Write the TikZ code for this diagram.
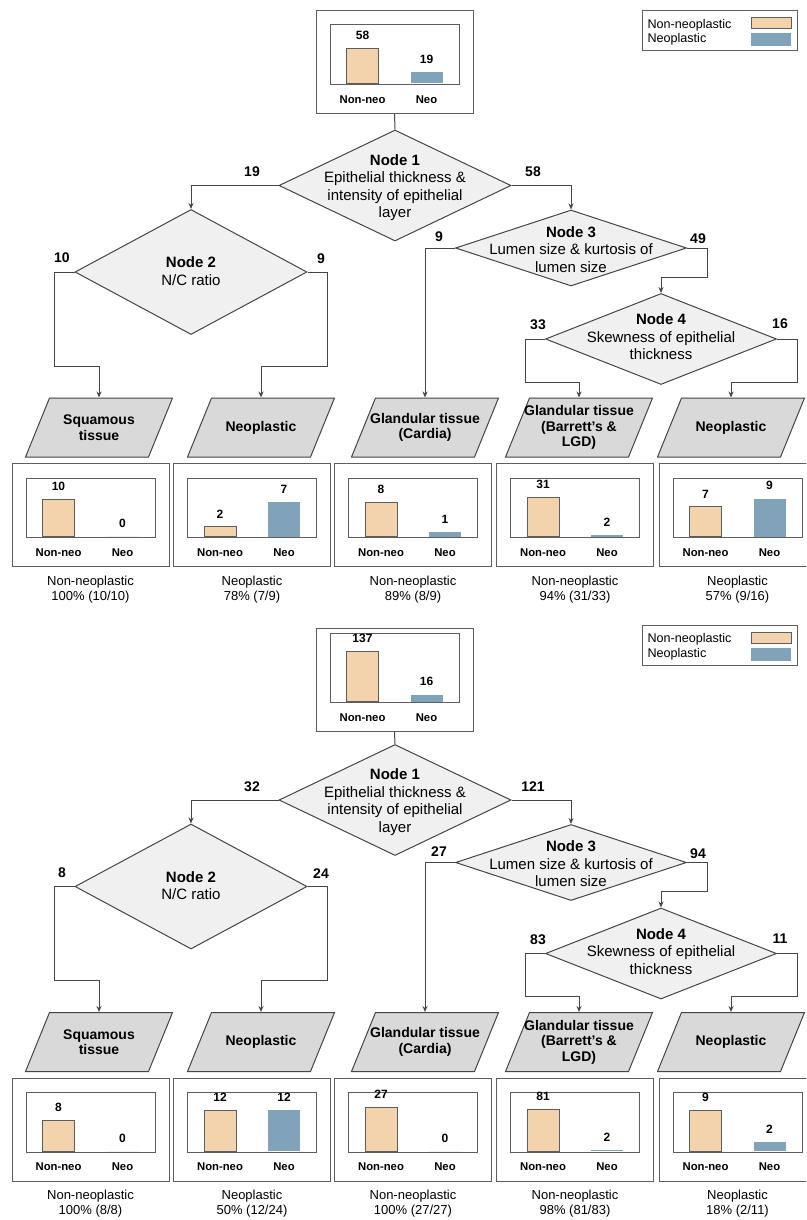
\documentclass[tikz,border=0pt]{standalone}
\usepackage{fontspec}
\setmainfont{Liberation Sans}
\usetikzlibrary{shapes.geometric,arrows.meta,positioning}

\definecolor{linegray}{HTML}{454545}
\definecolor{framegray}{HTML}{5E5E5E}
\definecolor{diafill}{HTML}{F0F0F0}
\definecolor{parfill}{HTML}{D9D9D9}
\definecolor{nonneo}{HTML}{F2D3AC}
\definecolor{neo}{HTML}{80A3BA}

% small bar chart: name, centre x, top y, value 1, value 2, bar 1 height, bar 2 height, extra inner height
\newcommand{\minichart}[8]{
  \node[chartframe] (#1) at (#2,#3) {};
  \node[chartinner,minimum height=59.5+#8] (#1in) at (#2,#3+14.5-#8) {};
  \node[nonneobar,minimum height=#6] (#1b1) at (#2-32,#3+74) {};
  \node[neobar,minimum height=#7] (#1b2) at (#2+32,#3+74) {};
  \node[barvalue,above=7.5pt of #1b1] (#1v1) {#4};
  \node[barvalue,above=7.5pt of #1b2] (#1v2) {#5};
  \node[barname] (#1x1) at (#2-32,#3+89.5) {Non-neo};
  \node[barname] (#1x2) at (#2+32,#3+89.5) {Neo};
}

\begin{document}
\begin{tikzpicture}[x=1pt,y=-1pt,line width=1pt,>={Stealth[length=6pt,width=5pt]},
  decision/.style={diamond,draw=linegray,fill=diafill,inner sep=0pt},
  decisiontext/.style={align=center,inner sep=0pt,font=\fontsize{15}{17.5}\selectfont},
  outcome/.style={minimum width=123,minimum height=59,inner sep=0pt,align=center,
    font=\bfseries\fontsize{14}{15.5}\selectfont},
  slantbox/.style={draw=linegray,fill=parfill},
  chartframe/.style={draw=framegray,fill=white,anchor=north,minimum width=157,minimum height=103,inner sep=0pt},
  chartinner/.style={draw=framegray,fill=white,anchor=north,minimum width=129,inner sep=0pt},
  nonneobar/.style={draw=framegray,fill=nonneo,anchor=south,minimum width=32,inner sep=0pt},
  neobar/.style={fill=neo,anchor=south,minimum width=32,inner sep=0pt},
  barvalue/.style={inner sep=0pt,font=\bfseries\fontsize{12}{14}\selectfont},
  barname/.style={inner sep=0pt,font=\bfseries\fontsize{11.3}{13}\selectfont},
  branch/.style={inner sep=0pt,font=\bfseries\fontsize{14}{16}\selectfont},
  summary/.style={align=center,inner sep=0pt,font=\fontsize{13}{15}\selectfont},
  legendframe/.style={draw=framegray,fill=white,minimum width=155,minimum height=40,inner sep=0pt},
  legendtext/.style={anchor=west,inner sep=0pt,font=\fontsize{12.6}{14}\selectfont}]

\clip (0,0) rectangle (806,1220);

% ---- upper tree
\node[legendframe] (aLeg) at (719.5,31) {};
\node[legendtext] (aLegT1) at (647,25) {Non-neoplastic};
\node[legendtext] (aLegT2) at (647,39.5) {Neoplastic};
\node[nonneobar,anchor=center,minimum width=40,minimum height=11] (aLegS1) at (771,23.5) {};
\node[neobar,anchor=center,minimum width=40,minimum height=13] (aLegS2) at (771,39.5) {};

\minichart{aRoot}{394.5}{10}{58}{19}{35}{11}{0}

\node[decision,minimum width=232,minimum height=111] (a1) at (395,185.5) {};
\node[decisiontext] (a1t) at (395,187.5) {\textbf{Node 1}\\Epithelial thickness \&\\intensity of epithelial\\layer};
\node[decision,minimum width=232,minimum height=125] (a2) at (191,272) {};
\node[decisiontext] (a2t) at (191,271) {\textbf{Node 2}\\N/C ratio};
\node[decision,minimum width=231,minimum height=76] (a3) at (571,248) {};
\node[decisiontext] (a3t) at (571,249.5) {\textbf{Node 3}\\Lumen size \& kurtosis of\\lumen size};
\node[decision,minimum width=231,minimum height=91] (a4) at (661,339) {};
\node[decisiontext] (a4t) at (661,337) {\textbf{Node 4}\\Skewness of epithelial\\thickness};

% slanted outcome boxes
\foreach \px in {99,261,425,579,731}
  \draw[slantbox] (\px-73.5,457) -- (\px-49.5,398) -- (\px+73.5,398) -- (\px+49.5,457) -- cycle;
\node[outcome] (aL1) at (99,427.5) {Squamous\\tissue};
\node[outcome] (aL2) at (261,427.5) {Neoplastic};
\node[outcome] (aL3) at (425,427.5) {Glandular tissue\\(Cardia)};
\node[outcome] (aL4) at (579,427.5) {Glandular tissue\\(Barrett's \&\\LGD)};
\node[outcome] (aL5) at (731,427.5) {Neoplastic};

\draw[draw=linegray] (aRoot.south) -- (a1.north);
\draw[->,draw=linegray] (a1.west) -| (a2.north);
\draw[->,draw=linegray] (a1.east) -| (a3.north);
\draw[->,draw=linegray] (a2.west) -| ++(-20,94) -| (aL1.north);
\draw[->,draw=linegray] (a2.east) -| ++(20,94) -| (aL2.north);
\draw[->,draw=linegray] (a3.west) -| (aL3.north);
\draw[->,draw=linegray] (a3.east) -| ++(20,29) -| (a4.north);
\draw[->,draw=linegray] (a4.west) -| ++(-20,43) -| (aL4.north);
\draw[->,draw=linegray] (a4.east) -| ++(20,43) -| (aL5.north);

\node[branch] (aN1) at (252,172) {19};
\node[branch] (aN2) at (533,172) {58};
\node[branch] (aN3) at (62,258) {10};
\node[branch] (aN4) at (321,259) {9};
\node[branch] (aN5) at (439,237) {9};
\node[branch] (aN6) at (698,239) {49};
\node[branch] (aN7) at (538,325) {33};
\node[branch] (aN8) at (780,324) {16};

\minichart{aC1}{90.5}{463}{10}{0}{37}{0}{0}
\minichart{aC2}{252}{463}{2}{7}{10}{35}{0}
\minichart{aC3}{413}{463}{8}{1}{34}{5}{0}
\minichart{aC4}{575}{463}{31}{2}{39}{2}{0}
\minichart{aC5}{737.5}{463}{7}{9}{30}{38}{0}

\node[summary] (aS1) at (90.5,589.5) {Non-neoplastic\\100\% (10/10)};
\node[summary] (aS2) at (252,589.5) {Neoplastic\\78\% (7/9)};
\node[summary] (aS3) at (413,589.5) {Non-neoplastic\\89\% (8/9)};
\node[summary] (aS4) at (575,589.5) {Non-neoplastic\\94\% (31/33)};
\node[summary] (aS5) at (737.5,589.5) {Neoplastic\\57\% (9/16)};

% ---- lower tree
\begin{scope}[yshift=-614.5pt]
\node[legendframe] (bLeg) at (719.5,31) {};
\node[legendtext] (bLegT1) at (647,25) {Non-neoplastic};
\node[legendtext] (bLegT2) at (647,39.5) {Neoplastic};
\node[nonneobar,anchor=center,minimum width=40,minimum height=11] (bLegS1) at (771,23.5) {};
\node[neobar,anchor=center,minimum width=40,minimum height=13] (bLegS2) at (771,39.5) {};

\minichart{bRoot}{394.5}{13.5}{137}{16}{50}{7}{10}

\node[decision,minimum width=232,minimum height=111] (b1) at (395,185.5) {};
\node[decisiontext] (b1t) at (395,187.5) {\textbf{Node 1}\\Epithelial thickness \&\\intensity of epithelial\\layer};
\node[decision,minimum width=232,minimum height=125] (b2) at (191,272) {};
\node[decisiontext] (b2t) at (191,271) {\textbf{Node 2}\\N/C ratio};
\node[decision,minimum width=231,minimum height=76] (b3) at (571,248) {};
\node[decisiontext] (b3t) at (571,249.5) {\textbf{Node 3}\\Lumen size \& kurtosis of\\lumen size};
\node[decision,minimum width=231,minimum height=91] (b4) at (661,339) {};
\node[decisiontext] (b4t) at (661,337) {\textbf{Node 4}\\Skewness of epithelial\\thickness};

\foreach \px in {99,261,425,579,731}
  \draw[slantbox] (\px-73.5,457) -- (\px-49.5,398) -- (\px+73.5,398) -- (\px+49.5,457) -- cycle;
\node[outcome] (bL1) at (99,427.5) {Squamous\\tissue};
\node[outcome] (bL2) at (261,427.5) {Neoplastic};
\node[outcome] (bL3) at (425,427.5) {Glandular tissue\\(Cardia)};
\node[outcome] (bL4) at (579,427.5) {Glandular tissue\\(Barrett's \&\\LGD)};
\node[outcome] (bL5) at (731,427.5) {Neoplastic};

\draw[draw=linegray] (bRoot.south) -- (b1.north);
\draw[->,draw=linegray] (b1.west) -| (b2.north);
\draw[->,draw=linegray] (b1.east) -| (b3.north);
\draw[->,draw=linegray] (b2.west) -| ++(-20,94) -| (bL1.north);
\draw[->,draw=linegray] (b2.east) -| ++(20,94) -| (bL2.north);
\draw[->,draw=linegray] (b3.west) -| (bL3.north);
\draw[->,draw=linegray] (b3.east) -| ++(20,29) -| (b4.north);
\draw[->,draw=linegray] (b4.west) -| ++(-20,43) -| (bL4.north);
\draw[->,draw=linegray] (b4.east) -| ++(20,43) -| (bL5.north);

\node[branch] (bN1) at (252,172) {32};
\node[branch] (bN2) at (533,172) {121};
\node[branch] (bN3) at (62,258) {8};
\node[branch] (bN4) at (321,259) {24};
\node[branch] (bN5) at (439,237) {27};
\node[branch] (bN6) at (698,239) {94};
\node[branch] (bN7) at (538,325) {83};
\node[branch] (bN8) at (780,324) {11};

\minichart{bC1}{90.5}{463}{8}{0}{31}{0}{0}
\minichart{bC2}{252}{463}{12}{12}{41}{41}{0}
\minichart{bC3}{413}{463}{27}{0}{44}{0}{0}
\minichart{bC4}{575}{463}{81}{2}{42}{1.5}{0}
\minichart{bC5}{737.5}{463}{9}{2}{41}{9}{0}

\node[summary] (bS1) at (90.5,589.5) {Non-neoplastic\\100\% (8/8)};
\node[summary] (bS2) at (252,589.5) {Neoplastic\\50\% (12/24)};
\node[summary] (bS3) at (413,589.5) {Non-neoplastic\\100\% (27/27)};
\node[summary] (bS4) at (575,589.5) {Non-neoplastic\\98\% (81/83)};
\node[summary] (bS5) at (737.5,589.5) {Neoplastic\\18\% (2/11)};
\end{scope}
\end{tikzpicture}
\end{document}
